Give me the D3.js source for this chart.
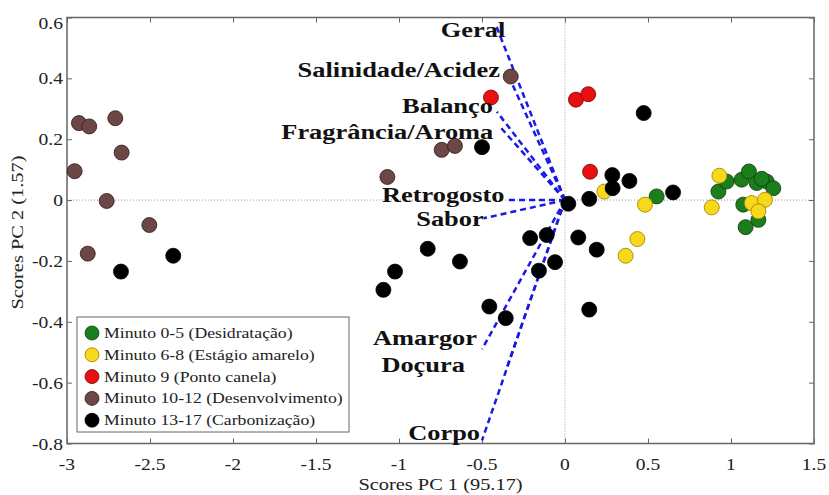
<!DOCTYPE html>
<html>
<head>
<meta charset="utf-8">
<script src="https://cdn.jsdelivr.net/npm/d3@7"></script>
<style>
  body { margin: 0; background: #fff; }
  svg { display: block; font-family: "Liberation Serif", "Times New Roman", serif; }
</style>
</head>
<body>
<svg id="chart" width="829" height="495"></svg>
<script>
// scores (PC1, PC2) for each roasting stage
const desidratacaoX = [0.552, 0.924, 0.974, 1.064, 1.108, 1.155, 1.215, 1.255, 1.185, 1.074, 1.165, 1.088];
const desidratacaoY = [0.012, 0.028, 0.061, 0.067, 0.094, 0.056, 0.061, 0.039, 0.070, -0.015, -0.065, -0.089];

const amareloX = [0.237, 0.482, 0.436, 0.365, 0.930, 0.884, 1.125, 1.205, 1.165];
const amareloY = [0.028, -0.015, -0.128, -0.183, 0.080, -0.024, -0.010, 0.001, -0.037];

const canelaX = [-0.446, 0.066, 0.140, 0.151];
const canelaY = [0.337, 0.330, 0.348, 0.093];

const desenvX = [-2.928, -2.866, -2.709, -2.671, -2.954, -2.761, -2.504, -2.875, -0.327, -0.743, -0.663, -1.070];
const desenvY = [0.253, 0.242, 0.269, 0.156, 0.095, -0.003, -0.082, -0.176, 0.406, 0.165, 0.178, 0.076];

const carbonX = [-2.675, -2.360, -0.500, 0.474, 0.020, 0.146, 0.285, 0.388, 0.287, 0.651, 0.080, 0.191,
                 -0.210, -0.110, -0.827, -0.633, -1.024, -1.094, -0.060, -0.157, -0.456, -0.357, 0.146];
const carbonY = [-0.235, -0.183, 0.174, 0.286, -0.012, 0.004, 0.082, 0.063, 0.039, 0.025, -0.123, -0.163,
                 -0.125, -0.115, -0.160, -0.202, -0.235, -0.295, -0.204, -0.232, -0.350, -0.388, -0.360];

const legendLabels = [
  "Minuto 0-5 (Desidratação)",
  "Minuto 6-8 (Estágio amarelo)",
  "Minuto 9 (Ponto canela)",
  "Minuto 10-12 (Desenvolvimento)",
  "Minuto 13-17 (Carbonização)"
];

// loadings (vector ends)
const loadingNames = ["Geral", "Salinidade/Acidez", "Balanço", "Fragrância/Aroma", "Retrogosto", "Sabor", "Amargor", "Doçura", "Corpo"];
const loadingX = [-0.42, -0.35, -0.41, -0.39, -0.34, -0.49, -0.50, -0.35, -0.50];
const loadingY = [0.58, 0.42, 0.29, 0.24, 0.00, -0.06, -0.49, -0.55, -0.79];

const xTicks = [-3, -2.5, -2, -1.5, -1, -0.5, 0, 0.5, 1, 1.5];
const yTicks = [-0.8, -0.6, -0.4, -0.2, 0, 0.2, 0.4, 0.6];

const xTitle = "Scores PC 1 (95.17)";
const yTitle = "Scores PC 2 (1.57)";

// ---- drawing ----
const svg = d3.select("#chart");
const plotL = 67, plotR = 814, plotT = 17.5, plotB = 443.5;

const x = d3.scaleLinear().domain([-3, 1.5]).range([plotL, plotR]);
const y = d3.scaleLinear().domain([-0.8, 0.6]).range([plotB, plotT]);

// series styles
const groups = [
  {xs: desidratacaoX, ys: desidratacaoY, fill: "#1b7d1b", stroke: "#0c3d0c"},
  {xs: amareloX, ys: amareloY, fill: "#f7d81a", stroke: "#9a7a00"},
  {xs: canelaX, ys: canelaY, fill: "#e81010", stroke: "#7a0000"},
  {xs: desenvX, ys: desenvY, fill: "#6d4646", stroke: "#2e1a1a"},
  {xs: carbonX, ys: carbonY, fill: "#000000", stroke: "#000000"}
];

// matlab style numbers: plain hyphen, no unicode minus
const fmt = function(v) { return String(v); };

// text glyphs in the picture are wider than Liberation Serif, stretch them a bit
function stretchedText(g, tx, ty, str, size, anchor, sx, weight) {
  return g.append("text")
    .attr("transform", "translate(" + tx + "," + ty + ") scale(" + sx + ",1)")
    .attr("text-anchor", anchor)
    .attr("font-size", size)
    .attr("font-weight", weight || "normal")
    .attr("fill", "#222")
    .text(str);
}

// zero lines
svg.append("line")
  .attr("x1", x(-3)).attr("x2", x(1.5)).attr("y1", y(0)).attr("y2", y(0))
  .attr("stroke", "#999").attr("stroke-width", 1).attr("stroke-dasharray", "1,2");
svg.append("line")
  .attr("x1", x(0)).attr("x2", x(0)).attr("y1", y(-0.8)).attr("y2", y(0.6))
  .attr("stroke", "#999").attr("stroke-width", 1).attr("stroke-dasharray", "1,2");

// axes (ticks inside on all four sides)
const axisG = svg.append("g").attr("class", "axes");
axisG.append("g").attr("transform", "translate(0," + plotB + ")")
  .call(d3.axisTop(x).tickValues(xTicks).tickSize(5).tickFormat(""));
axisG.append("g").attr("transform", "translate(0," + plotT + ")")
  .call(d3.axisBottom(x).tickValues(xTicks).tickSize(5).tickFormat(""));
axisG.append("g").attr("transform", "translate(" + plotL + ",0)")
  .call(d3.axisRight(y).tickValues(yTicks).tickSize(5).tickFormat(""));
axisG.append("g").attr("transform", "translate(" + plotR + ",0)")
  .call(d3.axisLeft(y).tickValues(yTicks).tickSize(5).tickFormat(""));
axisG.selectAll(".domain").remove();
axisG.selectAll(".tick line").attr("stroke", "#666").attr("stroke-width", 1);

// frame
svg.append("rect")
  .attr("x", plotL).attr("y", plotT)
  .attr("width", plotR - plotL).attr("height", plotB - plotT)
  .attr("fill", "none").attr("stroke", "#666").attr("stroke-width", 1.5);

// tick labels
const labelsG = svg.append("g");
xTicks.forEach(function(t) {
  stretchedText(labelsG, x(t), plotB + 26, fmt(t), 17, "middle", 1.15);
});
yTicks.forEach(function(t) {
  stretchedText(labelsG, plotL - 4, y(t) + (t === 0.6 ? 11 : 6), fmt(t), 17, "end", 1.15);
});

// axis titles
stretchedText(svg, (plotL + plotR) / 2, 490, xTitle, 17, "middle", 1.2);
svg.append("g").attr("transform", "translate(23," + ((plotT + plotB) / 2 + 2) + ") rotate(-90)")
  .call(function(g) { stretchedText(g, 0, 0, yTitle, 17, "middle", 1.2); });

// loading vectors
const vecG = svg.append("g");
loadingNames.forEach(function(name, i) {
  vecG.append("line")
    .attr("x1", x(0)).attr("y1", y(0))
    .attr("x2", x(loadingX[i])).attr("y2", y(loadingY[i]))
    .attr("stroke", "#1a1ae6").attr("stroke-width", 2.5)
    .attr("stroke-dasharray", "6,4");
});

// points
const ptsG = svg.append("g");
groups.forEach(function(grp) {
  ptsG.selectAll(null)
    .data(d3.range(grp.xs.length))
    .enter().append("circle")
    .attr("cx", function(i) { return x(grp.xs[i]); })
    .attr("cy", function(i) { return y(grp.ys[i]); })
    .attr("r", 7.5)
    .attr("fill", grp.fill)
    .attr("stroke", grp.stroke)
    .attr("stroke-width", 0.8);
});

// loading labels, placed next to vector ends
const labelShift = [[10, 13], [-7, 5], [-4, 1], [-7, 12], [-4, 2], [0, 8], [-5, -4], [-42, 5], [-2, 0]];
const namesG = svg.append("g");
loadingNames.forEach(function(name, i) {
  stretchedText(namesG, x(loadingX[i]) + labelShift[i][0], y(loadingY[i]) + labelShift[i][1],
    name, 22, "end", 1.2, "bold").attr("fill", "#111");
});

// legend
const leg = svg.append("g");
leg.append("rect")
  .attr("x", 77).attr("y", 317).attr("width", 272).attr("height", 115)
  .attr("fill", "#fff").attr("stroke", "#666").attr("stroke-width", 1);
legendLabels.forEach(function(lbl, i) {
  const ly = 333 + i * 21.8;
  leg.append("circle")
    .attr("cx", 92).attr("cy", ly).attr("r", 7)
    .attr("fill", groups[i].fill).attr("stroke", groups[i].stroke).attr("stroke-width", 0.8);
  stretchedText(leg, 104, ly + 5, lbl, 15, "start", 1.18);
});
</script>
</body>
</html>
